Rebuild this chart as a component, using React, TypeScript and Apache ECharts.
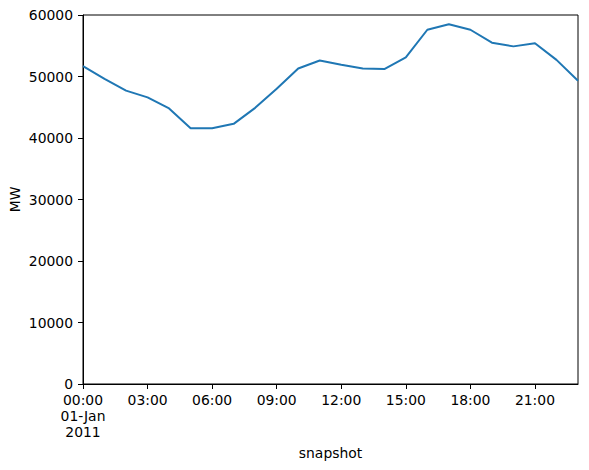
import React, { useEffect, useRef } from "react";
import * as echarts from "echarts";

const hours = [0, 1, 2, 3, 4, 5, 6, 7, 8, 9, 10, 11, 12, 13, 14, 15, 16, 17, 18, 19, 20, 21, 22, 23];
const loadMW = [
  51700, 49600, 47700, 46600, 44800, 41600, 41600, 42300, 44900, 48000, 51300, 52600,
  51900, 51300, 51200, 53100, 57600, 58500, 57600, 55500, 54900, 55400, 52700, 49300,
];
const xTickLabels: Record<number, string> = {
  0: "00:00\n01-Jan\n2011",
  3: "03:00",
  6: "06:00",
  9: "09:00",
  12: "12:00",
  15: "15:00",
  18: "18:00",
  21: "21:00",
};
const yTicks = [0, 10000, 20000, 30000, 40000, 50000, 60000];

export default function App() {
  const ref = useRef<HTMLDivElement>(null);
  useEffect(() => {
    if (!ref.current) return;
    const chart = echarts.init(ref.current, undefined, { renderer: "svg" });
    const font = "DejaVu Sans";
    chart.setOption({
      animation: false,
      backgroundColor: "#ffffff",
      grid: {
        left: 83,
        top: 15,
        right: 11,
        bottom: 86,
        show: true,
        borderColor: "#000000",
        borderWidth: 1,
        containLabel: false,
        outerBoundsMode: "none",
      },
      xAxis: {
        type: "value",
        min: 0,
        max: 23,
        interval: 3,
        name: "snapshot",
        nameLocation: "middle",
        nameGap: 62,
        nameMoveOverlap: false,
        nameTextStyle: { fontFamily: font, fontSize: 13.9, color: "#000" },
        axisLine: { show: true, lineStyle: { color: "#000", width: 1 } },
        axisTick: { show: true, inside: false, length: 5, lineStyle: { color: "#000" } },
        splitLine: { show: false },
        axisLabel: {
          fontFamily: font,
          fontSize: 13.9,
          lineHeight: 16,
          color: "#000",
          margin: 8,
          showMaxLabel: false,
          formatter: (v: number) => xTickLabels[v] ?? "",
        },
      },
      yAxis: {
        type: "value",
        min: yTicks[0],
        max: yTicks[yTicks.length - 1],
        interval: 10000,
        name: "MW",
        nameLocation: "middle",
        nameGap: 61,
        nameRotate: 90,
        nameMoveOverlap: false,
        nameTextStyle: { fontFamily: font, fontSize: 13.9, color: "#000" },
        axisLine: { show: true, lineStyle: { color: "#000", width: 1 } },
        axisTick: { show: true, inside: false, length: 5, lineStyle: { color: "#000" } },
        splitLine: { show: false },
        axisLabel: {
          fontFamily: font,
          fontSize: 13.9,
          color: "#000",
          margin: 10,
          formatter: (v: number) => String(v),
        },
      },
      series: [
        {
          type: "line",
          data: hours.map((h, i) => [h, loadMW[i]]),
          showSymbol: false,
          symbol: "none",
          lineStyle: { color: "#1f77b4", width: 2 },
          itemStyle: { color: "#1f77b4" },
        },
      ],
    });
    return () => chart.dispose();
  }, []);
  return <div ref={ref} style={{ width: 589, height: 470, margin: -8 }} />;
}
